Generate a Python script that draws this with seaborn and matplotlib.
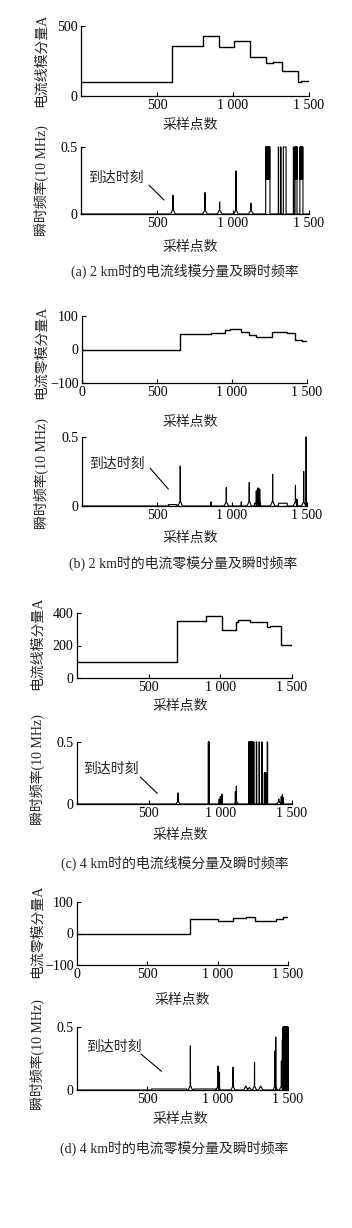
import numpy as np
import pandas as pd
import matplotlib
matplotlib.use("Agg")
import matplotlib.pyplot as plt
import seaborn as sns

W, H = 352, 1228

# ---------------- data ----------------
# (a) 2 km, line-mode current (step series) and instantaneous frequency
a_cur_x = [0, 600, 805, 910, 1005, 1115, 1220, 1265, 1325, 1425, 1447, 1500]
a_cur_y = [100, 355, 425, 348, 395, 275, 238, 246, 176, 100, 108, 108]
a_spike_pos = [605, 816, 912, 1020, 1118]
a_spike_h = [0.14, 0.16, 0.09, 0.32, 0.08]
a_bump_h = [0.035, 0.03, 0.03, 0.03, 0.03]
a_blk_start = [1215, 1298, 1313, 1331, 1397, 1408, 1440]
a_blk_end = [1243, 1300, 1316, 1349, 1400, 1421, 1460]
a_blk_level = [0.5, 0.5, 0.5, 0.5, 0.5, 0.5, 0.5]
a_blk_low = [0.26, None, None, None, None, 0.26, 0.26]

# (b) 2 km, zero-mode current
b_cur_x = [0, 656, 859, 955, 988, 1059, 1110, 1161, 1266, 1366, 1421, 1466, 1500]
b_cur_y = [0, 47, 50, 58, 62, 52, 42, 37, 52, 49, 29, 25, 25]
b_spike_pos = [655, 860, 962, 1062, 1115, 1162, 1170, 1178, 1185, 1271, 1423, 1433, 1478]
b_spike_h = [0.29, 0.03, 0.135, 0.03, 0.17, 0.11, 0.13, 0.13, 0.12, 0.23, 0.15, 0.05, 0.25]
b_bump_h = [0.035, 0, 0.03, 0, 0.035, 0, 0, 0, 0, 0.035, 0.03, 0, 0.03]
b_blk_start = [576, 1150, 1310, 1492]
b_blk_end = [633, 1190, 1368, 1496]
b_blk_level = [0.01, 0.02, 0.02, 0.5]
b_blk_low = [None, None, None, None]

# (c) 4 km, line-mode current
c_cur_x = [0, 698, 902, 1012, 1112, 1125, 1210, 1326, 1345, 1424, 1500]
c_cur_y = [100, 353, 379, 293, 345, 355, 347, 314, 322, 203, 203]
c_spike_pos = [705, 992, 1000, 1012, 1105, 1112, 1408, 1425, 1433, 1440]
c_spike_h = [0.09, 0.04, 0.06, 0.08, 0.1, 0.145, 0.04, 0.06, 0.076, 0.05]
c_bump_h = [0.02, 0, 0.02, 0, 0, 0.02, 0.02, 0, 0, 0]
c_blk_start = [916, 1198, 1232, 1251, 1270, 1289, 1307, 1327]
c_blk_end = [922, 1226, 1235, 1254, 1273, 1292, 1318, 1330]
c_blk_level = [0.5, 0.5, 0.5, 0.5, 0.5, 0.5, 0.25, 0.5]
c_blk_low = [0.0, 0.0, None, None, None, None, 0.0, None]

# (d) 4 km, zero-mode current
d_cur_x = [0, 806, 1003, 1109, 1204, 1264, 1323, 1418, 1465, 1500]
d_cur_y = [0, 46, 41, 50, 52, 40, 41, 47, 52, 52]
d_spike_pos = [806, 1003, 1013, 1109, 1200, 1225, 1262, 1306, 1408, 1413, 1453, 1460]
d_spike_h = [0.35, 0.19, 0.14, 0.18, 0.03, 0.02, 0.22, 0.03, 0.31, 0.42, 0.23, 0.4]
d_bump_h = [0.035, 0.03, 0, 0.03, 0.03, 0.02, 0.03, 0.03, 0.03, 0, 0.03, 0]
d_blk_start = [530, 830, 1465]
d_blk_end = [780, 990, 1500]
d_blk_level = [0.008, 0.008, 0.5]
d_blk_low = [None, None, 0.0]

captions = ["(a) 2 km时的电流线模分量及瞬时频率",
            "(b) 2 km时的电流零模分量及瞬时频率",
            "(c) 4 km时的电流线模分量及瞬时频率",
            "(d) 4 km时的电流零模分量及瞬时频率"]
ylab_line = "电流线模分量A"
ylab_zero = "电流零模分量A"
ylab_freq = "瞬时频率(10 MHz)"
xlab = "采样点数"
arrive = "到达时刻"

# ---------------- style ----------------
sns.set_style("ticks")
FAM = ["Liberation Serif", "Noto Sans CJK SC", "DejaVu Sans"]
plt.rcParams["font.family"] = FAM
plt.rcParams["axes.unicode_minus"] = True
plt.rcParams["xtick.direction"] = "in"
plt.rcParams["ytick.direction"] = "in"

FS = 10
BW = 15

fig = plt.figure(figsize=(W / 100, H / 100), dpi=100)
fig.patch.set_facecolor("white")


def add_ax(l, r, t, b):
    return fig.add_axes([l / W, 1 - b / H, (r - l) / W, (b - t) / H])


def ftext(x, y, s, **kw):
    fig.text(x / W, 1 - y / H, s, fontsize=FS, family=FAM, **kw)


def build_freq(sp_pos, sp_h, bump_h, bs, be, blv, blow):
    events = []
    for p, h, bh in zip(sp_pos, sp_h, bump_h):
        if bh > 0:
            v = [(p - BW, 0), (p - 1, bh), (p, h), (p + 1, bh), (p + BW, 0)]
        else:
            v = [(p - 1, 0), (p, h), (p + 1, 0)]
        events.append((v[0][0], v))
    for s, e, lv, low in zip(bs, be, blv, blow):
        v = [(s, 0), (s, lv)]
        if low is not None:
            for k in range(s + 1, e - 1, 2):
                v += [(k, lv), (k, low), (k + 1, low), (k + 1, lv)]
        v += [(e, lv), (e, 0)]
        events.append((s, v))
    events.sort(key=lambda t: t[0])
    xs, ys = [0], [0]
    for _, v in events:
        for x, y in v:
            xs.append(x)
            ys.append(y)
    xs.append(1500)
    ys.append(0)
    return pd.DataFrame({"x": xs, "y": ys})


def style_ax(ax, xticks, xlabels, yticks, ylabels, ylim):
    sns.despine(ax=ax)
    ax.set_xlim(0, 1500)
    ax.set_ylim(*ylim)
    ax.set_xticks(xticks)
    ax.set_xticklabels(xlabels, fontsize=FS, family=FAM)
    ax.set_yticks(yticks)
    ax.set_yticklabels(ylabels, fontsize=FS, family=FAM)
    ax.tick_params(length=3, width=0.8, pad=2.5, colors="black")
    for s in ["left", "bottom"]:
        ax.spines[s].set_linewidth(0.9)
        ax.spines[s].set_color("black")
    ax.set_xlabel("")
    ax.set_ylabel("")
    ax.set_facecolor("white")


def step_panel(ax, xs, ys):
    df = pd.DataFrame({"x": xs, "y": ys})
    sns.lineplot(data=df, x="x", y="y", ax=ax, drawstyle="steps-post",
                 color="black", linewidth=1.0, estimator=None, sort=False)


def freq_panel(ax, df, txt_xy, line_from, line_to):
    sns.lineplot(data=df, x="x", y="y", ax=ax, color="black", linewidth=0.8,
                 estimator=None, sort=False)
    for ln in ax.get_lines():
        ln.set_clip_on(False)
    ax.text(txt_xy[0], txt_xy[1], arrive, fontsize=FS, family=FAM,
            ha="left", va="center")
    ax.annotate("", xy=line_to, xytext=line_from,
                arrowprops=dict(arrowstyle="-", color="black", lw=0.8))


x3 = [500, 1000, 1500]
x3l = ["500", "1 000", "1 500"]
x4 = [0, 500, 1000, 1500]
x4l = ["0", "500", "1 000", "1 500"]

# ---- (a) ----
ax = add_ax(81, 309, 26, 96)
step_panel(ax, a_cur_x, a_cur_y)
style_ax(ax, x3, x3l, [0, 500], ["0", "500"], (0, 500))
ax = add_ax(81, 309, 147, 214)
freq_panel(ax, build_freq(a_spike_pos, a_spike_h, a_bump_h, a_blk_start,
                          a_blk_end, a_blk_level, a_blk_low),
           (46, 0.27), (434, 0.23), (559, 0.09))
style_ax(ax, x3, x3l, [0, 0.5], ["0", "0.5"], (0, 0.5))
ftext(41, 60, ylab_line, rotation=90, ha="center", va="center")
ftext(41, 181, ylab_freq, rotation=90, ha="center", va="center")
ftext(190, 125, xlab, ha="center", va="center")
ftext(190, 247, xlab, ha="center", va="center")
ftext(185, 271, captions[0], ha="center", va="center")

# ---- (b) ----
ax = add_ax(82, 307, 316, 383)
step_panel(ax, b_cur_x, b_cur_y)
style_ax(ax, x4, x4l, [-100, 0, 100], ["\u2212100", "0", "100"], (-100, 100))
ax = add_ax(82, 307, 437, 506)
freq_panel(ax, build_freq(b_spike_pos, b_spike_h, b_bump_h, b_blk_start,
                          b_blk_end, b_blk_level, b_blk_low),
           (48, 0.307), (443, 0.288), (588, 0.107))
style_ax(ax, x3, x3l, [0, 0.5], ["0", "0.5"], (0, 0.5))
ftext(41, 352, ylab_zero, rotation=90, ha="center", va="center")
ftext(41, 474, ylab_freq, rotation=90, ha="center", va="center")
ftext(190, 422, xlab, ha="center", va="center")
ftext(190, 538, xlab, ha="center", va="center")
ftext(183, 563, captions[1], ha="center", va="center")

# ---- (c) ----
ax = add_ax(77, 292, 613, 678)
step_panel(ax, c_cur_x, c_cur_y)
style_ax(ax, x3, x3l, [0, 200, 400], ["0", "200", "400"], (0, 400))
ax = add_ax(77, 292, 742, 804)
freq_panel(ax, build_freq(c_spike_pos, c_spike_h, c_bump_h, c_blk_start,
                          c_blk_end, c_blk_level, c_blk_low),
           (44, 0.28), (428, 0.233), (574, 0.07))
style_ax(ax, x3, x3l, [0, 0.5], ["0", "0.5"], (0, 0.5))
ftext(37, 643, ylab_line, rotation=90, ha="center", va="center")
ftext(37, 770, ylab_freq, rotation=90, ha="center", va="center")
ftext(180, 706, xlab, ha="center", va="center")
ftext(180, 835, xlab, ha="center", va="center")
ftext(175, 863, captions[2], ha="center", va="center")

# ---- (d) ----
ax = add_ax(77, 288, 902, 965)
step_panel(ax, d_cur_x, d_cur_y)
style_ax(ax, x4, x4l, [-100, 0, 100], ["\u2212100", "0", "100"], (-100, 100))
ax = add_ax(77, 288, 1027, 1090)
freq_panel(ax, build_freq(d_spike_pos, d_spike_h, d_bump_h, d_blk_start,
                          d_blk_end, d_blk_level, d_blk_low),
           (62, 0.34), (439, 0.30), (616, 0.134))
style_ax(ax, x3, x3l, [0, 0.5], ["0", "0.5"], (0, 0.5))
ftext(37, 931, ylab_zero, rotation=90, ha="center", va="center")
ftext(37, 1055, ylab_freq, rotation=90, ha="center", va="center")
ftext(182, 1000, xlab, ha="center", va="center")
ftext(180, 1119, xlab, ha="center", va="center")
ftext(174, 1148, captions[3], ha="center", va="center")

fig.savefig("out.png", dpi=100, facecolor="white")
